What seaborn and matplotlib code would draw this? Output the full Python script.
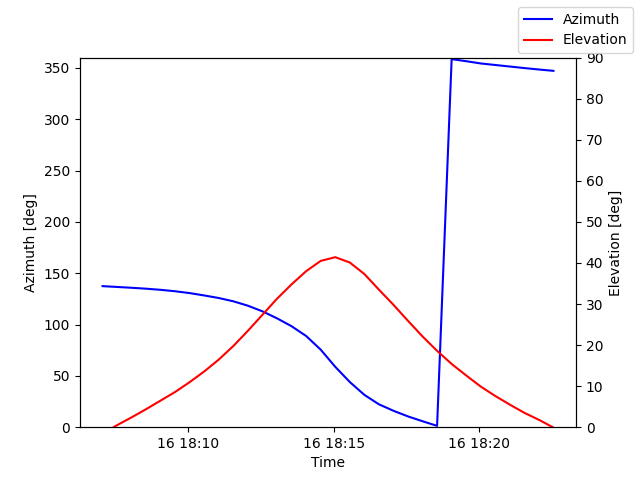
import pandas as pd
import matplotlib
matplotlib.use('Agg')
import matplotlib.pyplot as plt
import seaborn as sns

# pass samples, every 30 s
times = pd.date_range('2024-05-16 18:07:03', periods=32, freq='30s')

azimuth = [137.4, 136.6, 135.8, 134.9, 133.8, 132.4, 130.6, 128.3,
           125.8, 122.6, 118.3, 112.8, 106.0, 98.3, 88.8, 75.5,
           58.8, 44.0, 31.5, 22.3, 16.0, 10.5, 5.8, 1.3,
           358.5, 356.5, 354.3, 352.8, 351.3, 349.8, 348.4, 347.1]

elevation = [-1.6, 0.5, 2.4, 4.4, 6.5, 8.6, 11.0, 13.6,
             16.5, 19.8, 23.5, 27.4, 31.3, 34.8, 38.0, 40.5,
             41.4, 40.1, 37.3, 33.5, 29.8, 25.9, 22.1, 18.6,
             15.4, 12.6, 9.9, 7.6, 5.5, 3.5, 1.8, -0.1]

fig, ax = plt.subplots(figsize=(6.4, 4.8), dpi=100)
sns.lineplot(x=times, y=azimuth, color='b', label='Azimuth', legend=False, ax=ax)
ax.set_ylim(0, 360)
ax.set_xlabel('Time')
ax.set_ylabel('Azimuth [deg]')

ax2 = ax.twinx()
sns.lineplot(x=times, y=elevation, color='r', label='Elevation', legend=False, ax=ax2)
ax2.set_ylim(0, 90)
ax2.set_ylabel('Elevation [deg]')

fig.legend()
fig.savefig('out.png')
